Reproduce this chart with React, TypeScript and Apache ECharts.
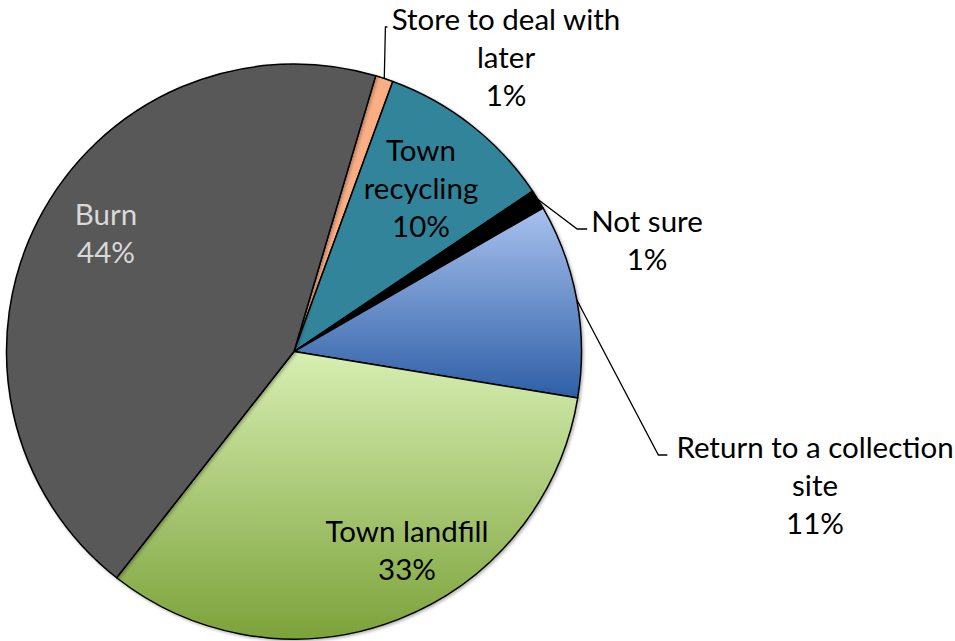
import React, { useEffect, useRef } from 'react';
import * as echarts from 'echarts';

// Data (clockwise from the top)
const CATEGORIES = [
  'Store to deal with\nlater',
  'Town\nrecycling',
  'Not sure',
  'Return to a collection\nsite',
  'Town landfill',
  'Burn',
];
const VALUES = [1.0, 10.0, 1.1, 10.9, 33.0, 44.0];

// Styling / layout (kept apart from data)
const COLORS: any[] = [
  '#F9AE84',
  '#31849B',
  '#000000',
  { type: 'linear', x: 0, y: 0, x2: 0, y2: 1, colorStops: [{ offset: 0, color: '#A8C1EE' }, { offset: 1, color: '#2E5FA6' }] },
  { type: 'linear', x: 0, y: 0, x2: 0, y2: 1, colorStops: [{ offset: 0, color: '#D7EFB2' }, { offset: 1, color: '#7CA23A' }] },
  '#595959',
];
const LABEL_INSIDE = [false, true, false, false, true, true];
const LABEL_COLORS = ['#000', '#000', '#000', '#000', '#000', '#D9D9D9'];
const LABEL_POS = [
  [506, 56],
  [421, 187],
  [647, 239],
  [815, 484],
  [407, 549],
  [106, 232],
];
const LEADER_TAIL = [2, 0, 10, 9, 0, 0];
const LEADER_GAP = [4, 0, 4, 9, 0, 0];
const FONT_SIZE = 29.5;
const LINE_HEIGHT = 38;

export default function App() {
  const ref = useRef<HTMLDivElement>(null);
  useEffect(() => {
    document.body.style.margin = '0';
    if (!ref.current) return;
    const chart = echarts.init(ref.current, null, { renderer: 'svg' });
    chart.setOption({
      animation: false,
      backgroundColor: '#fff',
      series: [
        {
          type: 'pie',
          center: [294, 351.5],
          radius: [0, 287.5],
          startAngle: 73.5,
          clockwise: true,
          avoidLabelOverlap: false,
          itemStyle: {
            borderColor: '#000',
            borderWidth: 1.5,
            shadowBlur: 3,
            shadowOffsetX: 1.5,
            shadowOffsetY: 1.5,
            shadowColor: 'rgba(0,0,0,0.3)',
          },
          emphasis: { disabled: true },
          label: {
            fontFamily: 'Lato',
            fontSize: FONT_SIZE,
            lineHeight: LINE_HEIGHT,
            align: 'center',
            formatter: (p: any) => `${p.name}\n${Math.round(p.percent)}%`,
          },
          labelLine: {
            show: true,
            length: 10,
            length2: 9,
            lineStyle: { color: '#000', width: 1.3 },
          },
          labelLayout: (p: any) => {
            const i = p.dataIndex;
            const pos = LABEL_POS[i];
            const out: any = { x: pos[0], y: pos[1], align: 'center', verticalAlign: 'middle' };
            if (!LABEL_INSIDE[i] && p.labelLinePoints && p.labelLinePoints[0] && p.labelRect) {
              const w = p.labelRect.width;
              const h = p.labelRect.height;
              const left = pos[0] - w / 2 - LEADER_GAP[i];
              const yc = pos[1] - h / 2 + LINE_HEIGHT / 2 + 9;
              const a = p.labelLinePoints[0];
              out.labelLinePoints = [
                [a[0], a[1]],
                [left - LEADER_TAIL[i], yc],
                [left, yc],
              ];
            }
            return out;
          },
          data: VALUES.map((v, i) => ({
            name: CATEGORIES[i],
            value: v,
            itemStyle: { color: COLORS[i] },
            label: {
              position: LABEL_INSIDE[i] ? 'inside' : 'outside',
              color: LABEL_COLORS[i],
            },
            labelLine: { show: !LABEL_INSIDE[i] },
          })),
        },
      ],
    });
    return () => chart.dispose();
  }, []);
  return <div ref={ref} style={{ width: 955, height: 641 }} />;
}
